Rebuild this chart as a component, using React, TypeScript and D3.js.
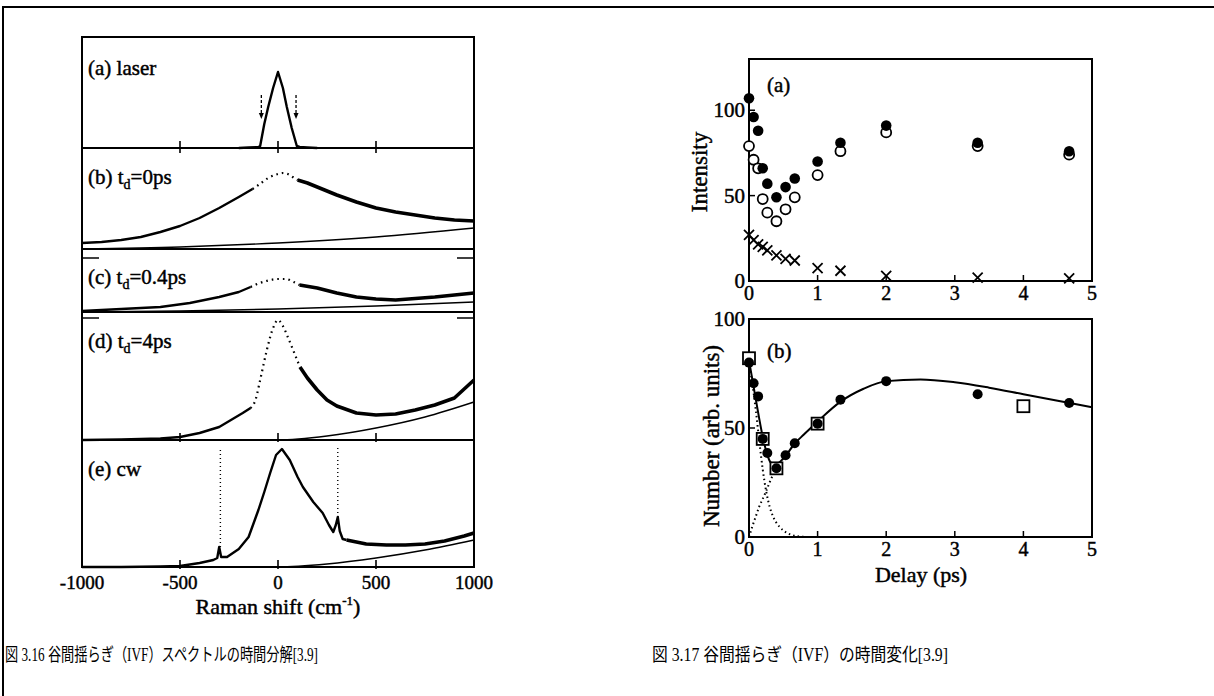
import React from "react";
import * as d3 from "d3";

type Pt = [number, number];

// ---------- Left figure (Fig 3.16): Raman spectra ----------
const ramanTicks = [-1000, -500, 0, 500, 1000];
const ramanMinorTicks = [-500, 0, 500];

const laserSpectrum: Pt[] = [[-200, 0], [-150, 0.5], [-100, 1], [-91, 2], [-70, 24], [-50, 41], [-25, 60], [0, 76], [25, 60], [45, 41], [70, 20], [96, 2], [110, 1], [150, 0.5], [200, 0]];
const laserMarks = [-85, 92];

const specBLow: Pt[] = [[-1000, 6], [-900, 7], [-800, 9], [-700, 12], [-600, 17], [-500, 23], [-400, 31], [-300, 41], [-200, 52], [-130, 60]];
const specBFit: Pt[] = [[-130, 60], [-100, 64], [-50, 71], [0, 75], [25, 76], [50, 75], [75, 72], [100, 69]];
const specBHigh: Pt[] = [[100, 69], [150, 66], [200, 62], [300, 54], [400, 47], [500, 41], [600, 37], [700, 34], [800, 31], [900, 29], [1000, 28]];
const baseB: Pt[] = [[-1000, 0], [-500, 2], [0, 6], [500, 12], [1000, 21]];

const specCLow: Pt[] = [[-1000, 1], [-800, 3], [-600, 5], [-450, 9], [-300, 15], [-200, 20], [-140, 25]];
const specCFit: Pt[] = [[-140, 25], [-100, 28.5], [-50, 31.5], [0, 33], [40, 33], [80, 30], [110, 27]];
const specCHigh: Pt[] = [[110, 27], [200, 24], [300, 19], [400, 15], [500, 13], [600, 12], [700, 13.5], [800, 15], [900, 17], [1000, 19]];
const baseC: Pt[] = [[-1000, 0], [-500, 1], [0, 3], [500, 6], [1000, 10]];

const specDLow: Pt[] = [[-1000, 0], [-800, 0.5], [-600, 1.5], [-500, 3], [-400, 7], [-300, 13], [-240, 20], [-180, 27], [-140, 32]];
const specDFit: Pt[] = [[-140, 32], [-115, 40], [-91, 60], [-57, 90], [-25, 112], [0, 120], [25, 114], [50, 103], [77, 90], [112, 73]];
const specDHigh: Pt[] = [[112, 73], [150, 62], [200, 50], [250, 40], [300, 34], [400, 27], [500, 25], [600, 26], [700, 30], [800, 35], [900, 42], [1000, 60]];
const baseD: Pt[] = [[-1000, 0], [0, 0], [250, 4], [500, 12], [750, 23], [1000, 38]];

const specELow: Pt[] = [[-1000, 0], [-800, 0], [-600, 0.5], [-500, 1], [-400, 4], [-330, 7], [-310, 9], [-300, 20], [-290, 10], [-260, 10], [-200, 18], [-150, 30], [-100, 57], [-70, 75], [-40, 94], [-10, 112], [20, 118], [60, 107], [100, 90], [127, 80], [180, 65], [228, 54], [260, 42], [282, 35], [295, 42], [305, 50], [315, 36], [330, 28], [350, 27]];
const specEHigh: Pt[] = [[350, 27], [450, 23], [553, 22], [650, 22], [750, 23], [850, 26], [950, 31], [1000, 34]];
const phononShift = [-294, 305];
const phononLow = [20, 50];
const phononHigh = [117, 120];
const baseE: Pt[] = [[-1000, 0], [0, 0], [250, 3], [500, 9], [750, 17], [1000, 27]];

// ---------- Right figure (Fig 3.17) ----------
const delayTicks = [0, 1, 2, 3, 4, 5];
const intensityTicks = [0, 50, 100];
const numberTicks = [0, 50, 100];
const delays = [0, 0.067, 0.133, 0.2, 0.267, 0.4, 0.533, 0.667, 1, 1.333, 2, 3.333, 4.667];
const filledA = [107, 96, 88, 66, 57, 49, 55, 60, 70, 81, 91, 81, 76];
const openA = [79, 71, 66, 48, 40, 35, 42, 49, 62, 76, 87, 79, 74];
const crossA = [27, 24, 21.5, 20, 18, 15, 13, 12, 7.5, 6, 3, 2, 1.5];

const filledB = [80, 70.5, 64.5, 45, 38.5, 31.5, 37.5, 43, 52, 63, 71.5, 65.5, 61.5];
const squareDelays = [0, 0.2, 0.4, 1, 4];
const squareB = [82, 45, 31.5, 52, 60];
const fitTotal: Pt[] = [[0, 81], [0.1, 63], [0.2, 46], [0.25, 39.5], [0.3, 35], [0.35, 33.5], [0.4, 33.5], [0.5, 36], [0.67, 43], [0.8, 47], [1, 53], [1.33, 62], [1.67, 68], [2, 71.5], [2.5, 72.3], [3, 71], [3.5, 68.5], [4, 65.5], [4.5, 62.5], [5, 59.5]];
const fitDecay: Pt[] = [[0, 80], [0.05, 70], [0.1, 58], [0.15, 44], [0.2, 31], [0.25, 21], [0.3, 14], [0.35, 9.5], [0.4, 6.5], [0.45, 4.5], [0.5, 3], [0.6, 1.2], [0.7, 0.4], [0.8, 0.1]];
const fitRise: Pt[] = [[0, 0], [0.05, 5], [0.1, 9.5], [0.15, 14], [0.2, 17.5], [0.25, 21], [0.3, 25], [0.35, 28.5], [0.4, 31.5], [0.45, 34]];

const captionLeft = "図 3.16 谷間揺らぎ（IVF）スペクトルの時間分解[3.9]";
const captionRight = "図 3.17 谷間揺らぎ（IVF）の時間変化[3.9]";

// ---------- layout ----------
const serif = "'Liberation Serif', 'DejaVu Serif', serif";
const LX0 = 82, LX1 = 474;
const panelBounds = [[37, 148], [148, 249], [249, 312], [312, 440], [440, 567]];
const ink = { stroke: "#000", strokeWidth: 0.45 };

type Panel = {
  label: string; sub?: string; rest?: string;
  solid: Pt[][]; thick: Pt[][]; dotted: Pt[][]; base?: Pt[];
  ticks: boolean; refTick?: number;
};

const panels: Panel[] = [
  { label: "(a) laser", solid: [laserSpectrum], thick: [], dotted: [], ticks: true },
  { label: "(b) t", sub: "d", rest: "=0ps", solid: [specBLow], thick: [specBHigh], dotted: [specBFit], base: baseB, ticks: false },
  { label: "(c) t", sub: "d", rest: "=0.4ps", solid: [specCLow], thick: [specCHigh], dotted: [specCFit], base: baseC, ticks: false, refTick: 54 },
  { label: "(d) t", sub: "d", rest: "=4ps", solid: [specDLow], thick: [specDHigh], dotted: [specDFit], base: baseD, ticks: true, refTick: 122 },
  { label: "(e) cw", solid: [specELow], thick: [specEHigh], dotted: [], base: baseE, ticks: true },
];

export default function App() {
  const xL = d3.scaleLinear().domain([-1000, 1000]).range([LX0, LX1]);
  const xR = d3.scaleLinear().domain([0, 5]).range([749, 1092]);
  const yRA = d3.scaleLinear().domain([0, 130]).range([281, 59]);
  const yRB = d3.scaleLinear().domain([0, 100]).range([537, 319]);

  const rightTop = yRA.range()[1], rightBot = yRA.range()[0];
  const bTop = yRB.range()[1], bBot = yRB.range()[0];
  const rLine = d3.line<Pt>().x(d => xR(d[0])).y(d => yRB(d[1])).curve(d3.curveMonotoneX);

  return (
    <svg width={1214} height={696} style={{ position: "absolute", left: 0, top: 0, background: "#fff" }} fontFamily={serif}>
      <rect x={0} y={0} width={1214} height={696} fill="#fff" />
      {/* outer frame */}
      <path d="M3,696 L3,7 L1214,7" fill="none" stroke="#000" strokeWidth={2} />

      {/* ---------- left figure ---------- */}
      {panels.map((p, i) => {
        const [top, bottom] = panelBounds[i];
        const y = d3.scaleLinear().domain([0, bottom - top]).range([bottom, top]);
        const line = d3.line<Pt>().x(d => xL(d[0])).y(d => y(d[1]));
        const smooth = d3.line<Pt>().x(d => xL(d[0])).y(d => y(d[1])).curve(d3.curveMonotoneX);
        return (
          <g key={i}>
            {p.base && <path d={smooth(p.base) || ""} fill="none" stroke="#000" strokeWidth={1.4} />}
            {p.solid.map((s, j) => <path key={"s" + j} d={line(s) || ""} fill="none" stroke="#000" strokeWidth={2.4} strokeLinejoin="round" />)}
            {p.thick.map((s, j) => <path key={"t" + j} d={line(s) || ""} fill="none" stroke="#000" strokeWidth={3.6} strokeLinejoin="round" />)}
            {p.dotted.map((s, j) => <path key={"d" + j} d={smooth(s) || ""} fill="none" stroke="#000" strokeWidth={2.2} strokeDasharray="1.6,4" />)}
            <line x1={LX0} x2={LX1} y1={bottom} y2={bottom} stroke="#000" strokeWidth={2} />
            {p.ticks && ramanMinorTicks.map(t => (
              <line key={t} x1={xL(t)} x2={xL(t)} y1={bottom - 7} y2={bottom + (i === 0 ? 5 : 2)} stroke="#000" strokeWidth={1.6} />
            ))}
            {p.refTick !== undefined && (
              <g>
                <line x1={LX0} x2={LX0 + 17} y1={y(p.refTick)} y2={y(p.refTick)} stroke="#000" strokeWidth={1.5} />
                <line x1={LX1 - 17} x2={LX1} y1={y(p.refTick)} y2={y(p.refTick)} stroke="#000" strokeWidth={1.5} />
              </g>
            )}
            <text x={88} y={top + (i === 0 ? 38 : i === 2 ? 35 : 36)} fontSize={21} {...ink}>
              {p.label}
              {p.sub && <tspan fontSize={14} dy={5}>{p.sub}</tspan>}
              {p.rest && <tspan dy={-5}>{p.rest}</tspan>}
            </text>
          </g>
        );
      })}
      {/* laser marks (arrows) */}
      {laserMarks.map(m => {
        const y = d3.scaleLinear().domain([0, 111]).range([148, 37]);
        return (
          <g key={m}>
            <line x1={xL(m)} x2={xL(m)} y1={y(53)} y2={y(33)} stroke="#000" strokeWidth={1.3} strokeDasharray="3,2" />
            <path d={`M${xL(m) - 2.5},${y(35)} L${xL(m) + 2.5},${y(35)} L${xL(m)},${y(29)} Z`} fill="#000" />
          </g>
        );
      })}
      {/* phonon lines in (e) */}
      {phononShift.map((s, k) => {
        const [top, bottom] = panelBounds[4];
        const y = d3.scaleLinear().domain([0, bottom - top]).range([bottom, top]);
        return <line key={s} x1={xL(s)} x2={xL(s)} y1={y(phononLow[k])} y2={y(phononHigh[k])} stroke="#000" strokeWidth={1.4} strokeDasharray="1,3" />;
      })}
      {/* left box */}
      <rect x={LX0} y={panelBounds[0][0]} width={LX1 - LX0} height={panelBounds[4][1] - panelBounds[0][0]} fill="none" stroke="#000" strokeWidth={2} />
      {ramanTicks.map(t => (
        <text key={t} x={xL(t)} y={589} fontSize={19} textAnchor="middle" {...ink}>{t}</text>
      ))}
      <text x={xL(0)} y={614} fontSize={22} textAnchor="middle" {...ink}>
        Raman shift (cm<tspan fontSize={13} dy={-9}>-1</tspan><tspan dy={9}>)</tspan>
      </text>

      {/* ---------- right figure ---------- */}
      <rect x={xR(0)} y={rightTop} width={xR(5) - xR(0)} height={rightBot - rightTop} fill="none" stroke="#000" strokeWidth={2} />
      <rect x={xR(0)} y={bTop} width={xR(5) - xR(0)} height={bBot - bTop} fill="none" stroke="#000" strokeWidth={2} />
      {delayTicks.slice(1, 5).map(t => (
        <g key={t}>
          <line x1={xR(t)} x2={xR(t)} y1={rightBot} y2={rightBot - 6} stroke="#000" strokeWidth={1.5} />
          <line x1={xR(t)} x2={xR(t)} y1={bBot} y2={bBot - 6} stroke="#000" strokeWidth={1.5} />
        </g>
      ))}
      {intensityTicks.slice(1).map(t => (
        <line key={t} x1={xR(0)} x2={xR(0) + 6} y1={yRA(t)} y2={yRA(t)} stroke="#000" strokeWidth={1.5} />
      ))}
      {numberTicks.slice(1, 2).map(t => (
        <line key={t} x1={xR(0)} x2={xR(0) + 6} y1={yRB(t)} y2={yRB(t)} stroke="#000" strokeWidth={1.5} />
      ))}
      {delayTicks.map(t => (
        <g key={t}>
          <text x={xR(t)} y={300} fontSize={20} textAnchor="middle" {...ink}>{t}</text>
          <text x={xR(t)} y={556} fontSize={20} textAnchor="middle" {...ink}>{t}</text>
        </g>
      ))}
      {intensityTicks.map(t => (
        <text key={t} x={745} y={yRA(t) + 7} fontSize={21} textAnchor="end" {...ink}>{t}</text>
      ))}
      {numberTicks.map(t => (
        <text key={t} x={745} y={yRB(t) + 7} fontSize={21} textAnchor="end" {...ink}>{t}</text>
      ))}
      <text transform={`translate(707,${(rightTop + rightBot) / 2 + 2}) rotate(-90)`} fontSize={23} textAnchor="middle" {...ink}>Intensity</text>
      <text transform={`translate(719,436) rotate(-90)`} fontSize={23} textAnchor="middle" {...ink}>Number (arb. units)</text>
      <text x={921} y={582} fontSize={22} textAnchor="middle" {...ink}>Delay (ps)</text>
      <text x={767} y={92} fontSize={21} {...ink}>(a)</text>
      <text x={767} y={358} fontSize={21} {...ink}>(b)</text>

      {/* (a) markers */}
      {delays.map((t, i) => (
        <path key={"x" + i} d={`M${xR(t) - 5},${yRA(crossA[i]) - 5}L${xR(t) + 5},${yRA(crossA[i]) + 5}M${xR(t) - 5},${yRA(crossA[i]) + 5}L${xR(t) + 5},${yRA(crossA[i]) - 5}`} stroke="#000" strokeWidth={1.8} fill="none" />
      ))}
      {delays.map((t, i) => (
        <circle key={"o" + i} cx={xR(t)} cy={yRA(openA[i])} r={5} fill="#fff" stroke="#000" strokeWidth={1.8} />
      ))}
      {delays.map((t, i) => (
        <circle key={"f" + i} cx={xR(t)} cy={yRA(filledA[i])} r={5.3} fill="#000" />
      ))}

      {/* (b) curves and markers */}
      <path d={rLine(fitDecay) || ""} fill="none" stroke="#000" strokeWidth={2} strokeDasharray="1.5,3" />
      <path d={rLine(fitRise) || ""} fill="none" stroke="#000" strokeWidth={2} strokeDasharray="1.5,3" />
      <path d={rLine(fitTotal) || ""} fill="none" stroke="#000" strokeWidth={2} />
      {squareDelays.map((t, i) => (
        <rect key={"sq" + i} x={xR(t) - 6} y={yRB(squareB[i]) - 6} width={12} height={12} fill="#fff" stroke="#000" strokeWidth={1.8} />
      ))}
      {delays.map((t, i) => (
        <circle key={"fb" + i} cx={xR(t)} cy={yRB(filledB[i])} r={5} fill="#000" />
      ))}

      {/* captions */}
      <text x={5} y={661} fontSize={18} fontFamily={`'Liberation Serif', 'Noto Sans CJK JP', serif`} textLength={313} lengthAdjust="spacingAndGlyphs">{captionLeft}</text>
      <text x={652} y={661} fontSize={18} fontFamily={`'Liberation Serif', 'Noto Sans CJK JP', serif`} textLength={296} lengthAdjust="spacingAndGlyphs">{captionRight}</text>
    </svg>
  );
}
